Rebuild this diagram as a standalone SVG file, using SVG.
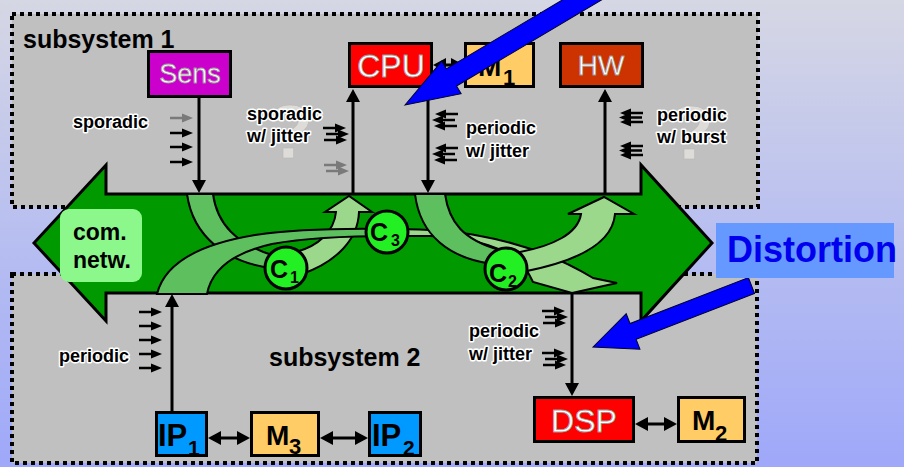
<svg xmlns="http://www.w3.org/2000/svg" xmlns:xlink="http://www.w3.org/1999/xlink" width="904" height="467" viewBox="0 0 904 467">
  <defs>
    <linearGradient id="bg" x1="0" y1="0" x2="0" y2="1">
      <stop offset="0" stop-color="#d6d7e4"/>
      <stop offset="0.5" stop-color="#b8bff0"/>
      <stop offset="1" stop-color="#9fa8f9"/>
    </linearGradient>
    <marker id="head" viewBox="0 0 13 14" markerUnits="userSpaceOnUse" markerWidth="13" markerHeight="14" refX="9" refY="7" orient="auto-start-reverse">
      <path d="M0,0 L13,7 L0,14 Z" fill="#000"/>
    </marker>
    <!-- small event arrow, pointing right -->
    <g id="ev">
      <line x1="0" y1="0" x2="14" y2="0" stroke-width="2.5"/>
      <path d="M12,-4.5 L23,0 L12,4.5 Z" stroke="none"/>
    </g>
    <!-- jittered stream: staggered arrows -->
    <g id="jit">
      <use xlink:href="#ev" x="0" y="0"/>
      <use xlink:href="#ev" x="3" y="6"/>
      <use xlink:href="#ev" x="1" y="12"/>
    </g>
    <!-- bursty stream: tightly packed arrows -->
    <g id="burst">
      <use xlink:href="#ev" x="0" y="0"/>
      <use xlink:href="#ev" x="1" y="4.5"/>
      <use xlink:href="#ev" x="0" y="9"/>
    </g>
  </defs>
  <style>
    .sub { fill: #c0c0c0; stroke: #000; stroke-width: 4; stroke-dasharray: 4 4; }
    .box { stroke: #000; stroke-width: 3; }
    .wt { font-family: "Liberation Sans", Arial, sans-serif; fill: #fff; stroke: #9a9a9a; stroke-width: 0.8; }
    .bk { font-family: "Liberation Sans", Arial, sans-serif; font-weight: bold; fill: #000; }
    .lab { font-family: "Liberation Sans", Arial, sans-serif; font-weight: bold; font-size: 18px; fill: #000; stroke: #fff; stroke-width: 3; stroke-linejoin: round; paint-order: stroke; }
    .title { font-family: "Liberation Sans", Arial, sans-serif; font-weight: bold; font-size: 25px; fill: #000; }
    .qm { font-family: "Liberation Sans", Arial, sans-serif; font-weight: bold; font-size: 76px; fill: #dedcd9; stroke: #b8b6b4; stroke-width: 0.6; }
    .med { fill: #5ebf5e; stroke: #000; stroke-width: 2; }
    .lite { fill: #9bd88c; stroke: #000; stroke-width: 2; }
    .ch { fill: #22f022; stroke: #000; stroke-width: 3; }
    .conn line { stroke: #000; stroke-width: 3; }
    .evs { fill: #000; stroke: #000; }
    .evg { fill: #7a7a7a; stroke: #7a7a7a; }
    .blue { fill: #0000ff; stroke: #000030; stroke-width: 1; }
  </style>

  <rect x="0" y="0" width="904" height="467" fill="url(#bg)"/>

  <!-- subsystems -->
  <g id="subsystem1">
    <rect class="sub" x="12" y="14" width="746" height="193"/>
    <text class="title" x="23" y="48">subsystem 1</text>
    <text class="qm" x="290" y="158" text-anchor="middle">?</text>
    <text class="qm" x="691" y="159" text-anchor="middle">?</text>
  </g>
  <g id="subsystem2">
    <rect class="sub" x="12" y="274" width="745" height="189"/>
    <text class="title" x="269" y="366">subsystem 2</text>
  </g>

  <!-- communication network -->
  <g id="network">
    <path d="M34,243 L106,165 L106,194 L641,194 L641,165 L712,243 L641,321 L641,293 L106,293 L106,321 Z" fill="#009900" stroke="#000" stroke-width="3"/>
    <rect x="60" y="209" width="82" height="73" rx="9" fill="#8cf88c"/>
    <text class="bk" x="73" y="240" font-size="23">com.</text>
    <text class="bk" x="73" y="268" font-size="23">netw.</text>
  </g>

  <!-- event streams routed through the network -->
  <g id="streams">
    <path class="med" d="M187,194 L213,194 C217,224 236,244 275,256 L270,268 C228,262 193,238 187,194 Z"/>
    <path class="lite" d="M296,252 C318,246 334,232 336,212 L325,212 L349,196 L372,212 L359,212 C358,240 336,262 302,274 Z"/>
    <path class="med" d="M157,294 C165,262 200,244 255,235 C295,229 340,228 392,229 L392,236 C340,236 305,238 272,244 C236,252 212,268 207,294 Z"/>
    <path class="lite" d="M395,229 C430,229 455,231 480,236 C525,244 560,258 593,278 L617,283 L572,293 L533,282 C530,276 527,270 522,262 C505,250 480,238 430,236 L395,236 Z"/>
    <path class="med" d="M415,194 L445,194 C449,222 463,240 500,250 L492,264 C450,258 420,236 415,194 Z"/>
    <path class="lite" d="M520,252 C552,246 578,234 581,214 L568,214 L604,197 L634,214 L615,214 C613,240 585,260 522,272 Z"/>
  </g>

  <!-- channels -->
  <g id="C1">
    <circle class="ch" cx="286" cy="268" r="21"/>
    <text class="bk" x="270" y="278" font-size="25">C</text>
    <text class="bk" x="290" y="283" font-size="16">1</text>
  </g>
  <g id="C3">
    <circle class="ch" cx="387" cy="232" r="21"/>
    <text class="bk" x="370" y="241" font-size="25">C</text>
    <text class="bk" x="391" y="246" font-size="16">3</text>
  </g>
  <g id="C2">
    <circle class="ch" cx="506" cy="269" r="21"/>
    <text class="bk" x="489" y="282" font-size="25">C</text>
    <text class="bk" x="508" y="287" font-size="16">2</text>
  </g>

  <!-- connectors -->
  <g id="connectors" class="conn">
    <line x1="199" y1="98" x2="199" y2="189" marker-end="url(#head)"/>
    <line x1="353" y1="194" x2="353" y2="93" marker-end="url(#head)"/>
    <line x1="428" y1="88" x2="428" y2="189" marker-end="url(#head)"/>
    <line x1="605" y1="194" x2="605" y2="93" marker-end="url(#head)"/>
    <line x1="172" y1="411" x2="172" y2="298" marker-end="url(#head)"/>
    <line x1="572" y1="294" x2="572" y2="392" marker-end="url(#head)"/>
    <line x1="437" y1="65" x2="460" y2="65" marker-start="url(#head)" marker-end="url(#head)"/>
    <line x1="212" y1="438" x2="246" y2="438" marker-start="url(#head)" marker-end="url(#head)"/>
    <line x1="324" y1="438" x2="364" y2="438" marker-start="url(#head)" marker-end="url(#head)"/>
    <line x1="639" y1="424" x2="673" y2="424" marker-start="url(#head)" marker-end="url(#head)"/>
  </g>

  <!-- components -->
  <g id="Sens">
    <rect class="box" x="148.5" y="51.5" width="82" height="45" fill="#cc00cc"/>
    <text class="wt" x="190" y="83" font-size="27" text-anchor="middle">Sens</text>
  </g>
  <g id="CPU">
    <rect class="box" x="349.5" y="43.5" width="82" height="43" fill="#ff0000"/>
    <text class="wt" x="391" y="77" font-size="32" text-anchor="middle">CPU</text>
  </g>
  <g id="M1">
    <rect class="box" x="465.5" y="43.5" width="68" height="43" fill="#ffcc66"/>
    <text class="bk" x="478" y="76" font-size="28">M</text>
    <text class="bk" x="503" y="85" font-size="22">1</text>
  </g>
  <g id="HW">
    <rect class="box" x="560.5" y="43.5" width="82" height="43" fill="#cc3300"/>
    <text class="wt" x="601" y="75" font-size="28" text-anchor="middle">HW</text>
  </g>
  <g id="IP1">
    <rect class="box" x="156.5" y="412.5" width="50" height="43" fill="#0099ff"/>
    <text class="bk" x="158" y="446" font-size="31">IP</text>
    <text class="bk" x="188" y="455" font-size="21">1</text>
  </g>
  <g id="M3">
    <rect class="box" x="251.5" y="412.5" width="67" height="43" fill="#ffcc66"/>
    <text class="bk" x="266" y="445" font-size="28">M</text>
    <text class="bk" x="289" y="454" font-size="22">3</text>
  </g>
  <g id="IP2">
    <rect class="box" x="369.5" y="412.5" width="51" height="43" fill="#0099ff"/>
    <text class="bk" x="372" y="446" font-size="31">IP</text>
    <text class="bk" x="403" y="455" font-size="21">2</text>
  </g>
  <g id="DSP">
    <rect class="box" x="534.5" y="397.5" width="99" height="44" fill="#ff0000"/>
    <text class="wt" x="584" y="432" font-size="32" text-anchor="middle">DSP</text>
  </g>
  <g id="M2">
    <rect class="box" x="678.5" y="397.5" width="66" height="44" fill="#ffcc66"/>
    <text class="bk" x="692" y="430" font-size="28">M</text>
    <text class="bk" x="715" y="441" font-size="22">2</text>
  </g>

  <!-- event models -->
  <g id="event-models">
    <text class="lab" x="73" y="128">sporadic</text>
    <use class="evg" xlink:href="#ev" x="170" y="118"/>
    <use class="evs" xlink:href="#ev" x="170" y="133"/>
    <use class="evs" xlink:href="#ev" x="170" y="147"/>
    <use class="evs" xlink:href="#ev" x="170" y="162"/>

    <text class="lab" x="247" y="120">sporadic</text>
    <text class="lab" x="247" y="142">w/ jitter</text>
    <use class="evs" xlink:href="#jit" x="323" y="128"/>
    <use class="evg" xlink:href="#ev" x="324" y="165"/>
    <use class="evg" xlink:href="#ev" x="326" y="171"/>

    <text class="lab" x="466" y="134">periodic</text>
    <text class="lab" x="466" y="157">w/ jitter</text>
    <use class="evs" xlink:href="#jit" transform="translate(458,114) scale(-1,1)"/>
    <use class="evs" xlink:href="#jit" transform="translate(458,148) scale(-1,1)"/>

    <text class="lab" x="657" y="121">periodic</text>
    <text class="lab" x="657" y="143">w/ burst</text>
    <use class="evs" xlink:href="#burst" transform="translate(643,113) scale(-1,1)"/>
    <use class="evs" xlink:href="#burst" transform="translate(643,146) scale(-1,1)"/>

    <text class="lab" x="59" y="362">periodic</text>
    <use class="evs" xlink:href="#ev" x="139" y="312"/>
    <use class="evs" xlink:href="#ev" x="139" y="326"/>
    <use class="evs" xlink:href="#ev" x="139" y="340"/>
    <use class="evs" xlink:href="#ev" x="139" y="354"/>
    <use class="evs" xlink:href="#ev" x="139" y="368"/>

    <text class="lab" x="469" y="337">periodic</text>
    <text class="lab" x="469" y="360">w/ jitter</text>
    <use class="evs" xlink:href="#jit" x="542" y="311"/>
    <use class="evs" xlink:href="#jit" x="542" y="353"/>
  </g>

  <!-- distortion indicators -->
  <g id="distortion">
    <path class="blue" transform="translate(405,105) rotate(149.3)" d="M0,0 L-54,19 L-54,10 L-260,10 L-260,-10 L-54,-10 L-54,-19 Z"/>
    <path class="blue" transform="translate(593,347) rotate(158.8)" d="M0,0 L-43,19 L-43,8.5 L-170,8.5 L-170,-8.5 L-43,-8.5 L-43,-19 Z"/>
    <rect x="716" y="223" width="178" height="55" fill="#6699ff"/>
    <text x="727" y="262" font-family="Liberation Sans, Arial, sans-serif" font-weight="bold" font-size="36" fill="#0000ee">Distortion</text>
  </g>
</svg>
